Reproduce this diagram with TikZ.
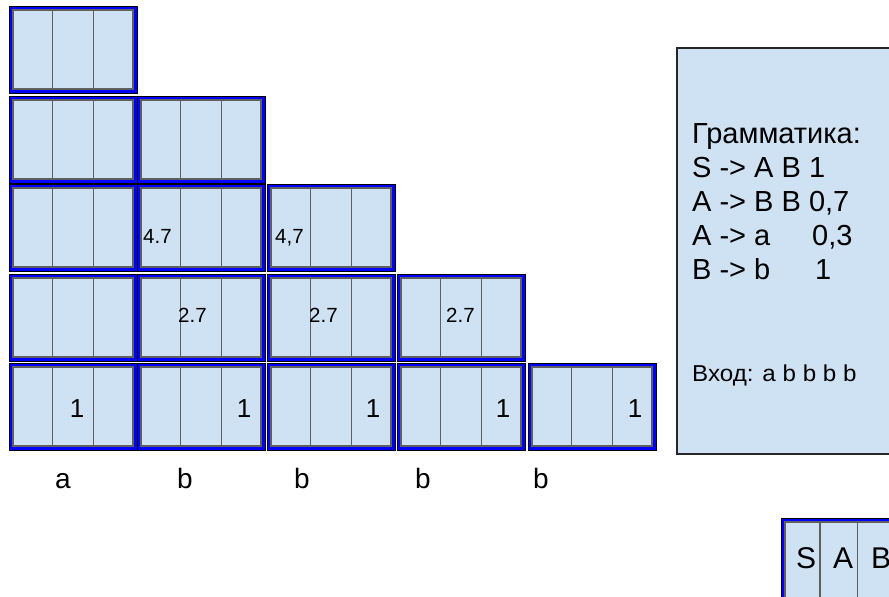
\documentclass[tikz,border=0pt]{standalone}
\usepackage{fontspec}
\setmainfont{Liberation Sans}
\definecolor{cellfill}{HTML}{CFE2F3}
\definecolor{cellblue}{HTML}{0000FF}
\definecolor{linegray}{HTML}{5F5F5F}
\newcommand\cykcell[2]{%
  \filldraw[outerbox] (#1,#2) rectangle ++(128,87);
  \filldraw[innerbox] (#1+4,#2+4) rectangle (#1+124,#2+83);
  \draw[sepline] (#1+43.5,#2+4) -- (#1+43.5,#2+83)
                 (#1+84.5,#2+4) -- (#1+84.5,#2+83);
}
\begin{document}
\begin{tikzpicture}[x=1pt,y=-1pt,
  outerbox/.style={fill=cellblue,draw=black,line width=0.8pt},
  innerbox/.style={fill=cellfill,draw=linegray,line width=1.6pt},
  sepline/.style={draw=linegray,line width=1.6pt},
  numbig/.style={anchor=base,inner sep=0pt,font=\fontsize{26}{30}\selectfont},
  letter/.style={anchor=base,inner sep=0pt,font=\fontsize{28}{32}\selectfont},
  numsmall/.style={anchor=base west,inner sep=0pt,font=\fontsize{20.5}{24}\selectfont},
  gram/.style={anchor=base west,inner sep=0pt,font=\fontsize{29}{34}\selectfont},
  legend/.style={anchor=base,inner sep=0pt,font=\fontsize{30}{34}\selectfont},
]
\useasboundingbox (0,0) rectangle (889,597);
\fill[white] (0,0) rectangle (889,597);
% triangle of cells
\cykcell{9}{6}
\cykcell{9}{96}\cykcell{137}{96}
\cykcell{9}{184}\cykcell{137}{184}\cykcell{267}{184}
\cykcell{9}{274}\cykcell{137}{274}\cykcell{267}{274}\cykcell{397}{274}
\cykcell{9}{363}\cykcell{137}{363}\cykcell{267}{363}\cykcell{397}{363}\cykcell{528}{363}
% values
\node[numsmall] (v21) at (143,243) {4.7};
\node[numsmall] (v22) at (275,243) {4,7};
\node[numsmall] (v31) at (178,322) {2.7};
\node[numsmall] (v32) at (309,322) {2.7};
\node[numsmall] (v33) at (446,322) {2.7};
\node[numbig] (v40) at (77,417) {1};
\node[numbig] (v41) at (244,417) {1};
\node[numbig] (v42) at (373,417) {1};
\node[numbig] (v43) at (503,417) {1};
\node[numbig] (v44) at (635,417) {1};
% input letters
\node[letter] (w0) at (63,488) {a};
\node[letter] (w1) at (185,488) {b};
\node[letter] (w2) at (302,488) {b};
\node[letter] (w3) at (423,488) {b};
\node[letter] (w4) at (541,488) {b};
% grammar box
\filldraw[fill=cellfill,draw=black!85,line width=1.6pt] (677,48) rectangle (900,454);
\node[gram] (g0) at (692,143) {Грамматика:};
\node[gram] (g1) at (692,177) {S -> A B 1};
\node[gram] (g2) at (692,211) {A -> B B 0,7};
\node[gram] (g3) at (692,245) {A -> a};
\node[gram] (g3b) at (812,245) {0,3};
\node[gram] (g4) at (692,279) {B -> b};
\node[gram] (g4b) at (815,279) {1};
\node[gram,font=\fontsize{23}{27}\selectfont,xscale=1.05] (g5) at (692,381) {Вход: a b b b b};
% legend
\filldraw[outerbox] (781,518) rectangle (910,620);
\filldraw[innerbox] (785,522) rectangle (906,616);
\draw[sepline] (820,522) -- (820,616) (857.5,522) -- (857.5,616);
\node[legend] (lS) at (806,568) {S};
\node[legend] (lA) at (843,568) {A};
\node[legend] (lB) at (881,568) {B};
\end{tikzpicture}
\end{document}
